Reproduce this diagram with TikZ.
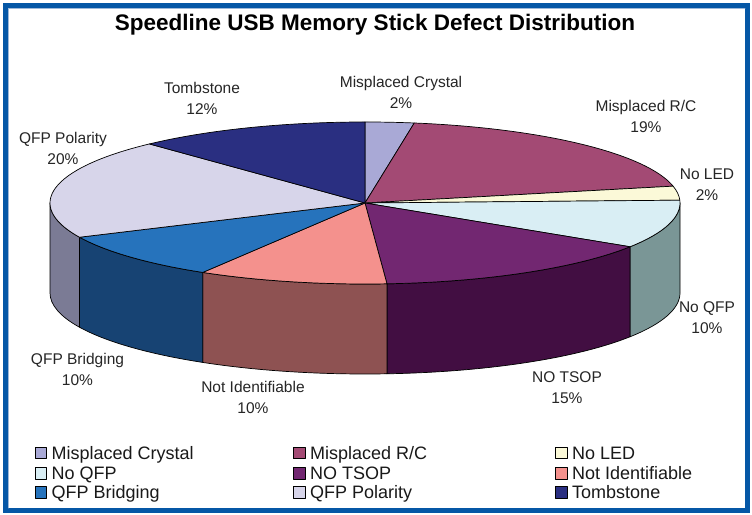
\documentclass[tikz,border=0pt]{standalone}
\usepackage{fontspec}
\setmainfont{Liberation Sans}
\usetikzlibrary{calc}
\definecolor{frameblue}{HTML}{0557A6}
\definecolor{framelite}{HTML}{9DB8D8}
\definecolor{mcry}{HTML}{A9A9D6}
\definecolor{mrc}{HTML}{A34A74}
\definecolor{led}{HTML}{FBF9D8}
\definecolor{qfp}{HTML}{D9EEF4}
\definecolor{qfpside}{HTML}{7A9696}
\definecolor{tsop}{HTML}{722771}
\definecolor{tsopside}{HTML}{420E42}
\definecolor{nid}{HTML}{F4918D}
\definecolor{nidside}{HTML}{8E5252}
\definecolor{brid}{HTML}{2673BC}
\definecolor{bridside}{HTML}{174373}
\definecolor{pol}{HTML}{D7D5EA}
\definecolor{polside}{HTML}{7B7B95}
\definecolor{tomb}{HTML}{2A2F81}
\begin{document}
\begin{tikzpicture}[x=1pt, y=1pt, line join=round, line cap=round, font=\fontsize{15.5}{21}\selectfont,
	slice/.style={draw=black, line width=0.7pt},
	lbl/.style={align=center, text=black!85, inner sep=0pt},
	key/.style={draw=black, line width=0.5pt, minimum size=11.5pt, inner sep=0pt},
	keytxt/.style={anchor=base west, inner sep=0pt, text=black!90, font=\fontsize{18}{20}\selectfont}]
	\def\cx{365} \def\cy{311} \def\rx{315} \def\ry{81} \def\dep{90}
	\useasboundingbox (0,0) rectangle (752,514);
	\fill[white] (0,0) rectangle (752,514);
	\draw[frameblue, line width=5pt, line cap=butt, line join=miter] (5.5,3.5) rectangle (747.5,508.5);
	\draw[framelite, line width=0.8pt] (8.5,6) -- (8.5,505.5) -- (745,505.5);
	\node[font=\bfseries\fontsize{22.5}{26}\selectfont] (title) at (375,489) {Speedline USB Memory Stick Defect Distribution};
	\coordinate (c) at (\cx,\cy);
	% side walls of the front half
	\foreach \a/\b/\col in {0/-32.7/qfpside, -32.7/-86/tsopside, -86/-121/nidside, -121/-155/bridside, -155/-180/polside}
		\filldraw[slice, fill=\col] ($(c)+({\rx*cos(\a)},{\ry*sin(\a)})$) arc[start angle=\a, end angle=\b, x radius=\rx, y radius=\ry]
			-- ++(0,-\dep) arc[start angle=\b, end angle=\a, x radius=\rx, y radius=\ry] -- cycle;
	% top of the pie
	\foreach \a/\b/\col in {90/81/mcry, 81/12/mrc, 12/2/led, 2/-32.7/qfp, -32.7/-86/tsop, -86/-121/nid, -121/-155/brid, -155/-226.8/pol, -226.8/-270/tomb}
		\filldraw[slice, fill=\col] (c) -- ($(c)+({\rx*cos(\a)},{\ry*sin(\a)})$) arc[start angle=\a, end angle=\b, x radius=\rx, y radius=\ry] -- cycle;
	% data labels
	\node[lbl] (l-mcry) at (401,421.5) {Misplaced Crystal\\2\%};
	\node[lbl] (l-mrc) at (646,397.5) {Misplaced R/C\\19\%};
	\node[lbl] (l-led) at (707,329.5) {No LED\\2\%};
	\node[lbl] (l-qfp) at (707,196.5) {No QFP\\10\%};
	\node[lbl] (l-tsop) at (567,126) {NO TSOP\\15\%};
	\node[lbl] (l-nid) at (253,116.5) {Not Identifiable\\10\%};
	\node[lbl] (l-brid) at (77.5,144.5) {QFP Bridging\\10\%};
	\node[lbl] (l-pol) at (63,365.5) {QFP Polarity\\20\%};
	\node[lbl] (l-tomb) at (202,415.5) {Tombstone\\12\%};
	% legend
	\foreach \n/\x/\y/\col/\t in {mcry/40.5/61/mcry/{Misplaced Crystal}, mrc/299/61/mrc/{Misplaced R/C}, led/561/61/led/{No LED},
		qfp/40.5/41/qfp/{No QFP}, tsop/299/41/tsop/{NO TSOP}, nid/561/41/nid/{Not Identifiable},
		brid/40.5/22/brid/{QFP Bridging}, pol/299/22/pol/{QFP Polarity}, tomb/561/22/tomb/{Tombstone}} {
		\node[key, fill=\col] (k-\n) at (\x,\y) {};
		\node[keytxt] (t-\n) at ([xshift=5pt, yshift=-6.3pt]k-\n.east) {\t};
	}
\end{tikzpicture}
\end{document}
